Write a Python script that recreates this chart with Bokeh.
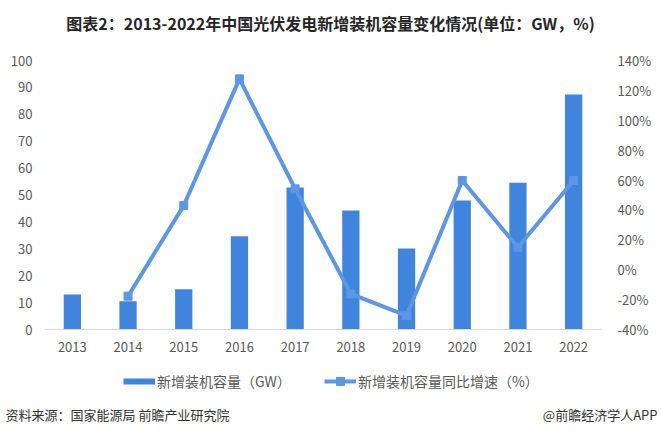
from bokeh.plotting import figure
from bokeh.layouts import column
from bokeh.models import (Range1d, LinearAxis, FixedTicker, PrintfTickFormatter, Label,
                          Legend, LegendItem, ColumnDataSource, FactorRange)
from bokeh.embed import file_html
from bokeh.resources import INLINE

years = ["2013", "2014", "2015", "2016", "2017", "2018", "2019", "2020", "2021", "2022"]
capacity_gw = [13.0, 10.5, 15.0, 34.7, 52.8, 44.2, 30.1, 48.0, 54.6, 87.4]
growth_years = ["2014", "2015", "2016", "2017", "2018", "2019", "2020", "2021", "2022"]
growth_pct = [-17.7, 43.0, 127.7, 54.1, -16.2, -30.7, 59.7, 15.0, 59.7]
left_ticks = [0, 10, 20, 30, 40, 50, 60, 70, 80, 90, 100]
right_ticks = [-40, -20, 0, 20, 40, 60, 80, 100, 120, 140]

TITLE = "图表2：2013-2022年中国光伏发电新增装机容量变化情况(单位：GW，%)"
SOURCE = "资料来源：国家能源局 前瞻产业研究院"
BRAND = "@前瞻经济学人APP"
BAR_LABEL = "新增装机容量（GW）"
LINE_LABEL = "新增装机容量同比增速（%）"

CJK = "Noto Sans CJK SC"
TICK_COLOR = "#595959"
BAR_COLOR = "#3F85DE"
LINE_COLOR = "#5B97E3"

W = 661
TITLE_H = 45
MAIN_H = 320
BOT_H = 74


def text_fig(h):
    f = figure(width=W, height=h, x_range=Range1d(0, W), y_range=Range1d(0, h),
               x_axis_type=None, y_axis_type=None, output_backend="svg",
               toolbar_location=None, min_border=0, frame_align=False)
    f.outline_line_color = None
    f.grid.visible = False
    return f


# ---- title strip
tf = text_fig(TITLE_H)
tf.add_layout(Label(x=330, y=TITLE_H - 22, text=TITLE, text_font=CJK, text_font_size="16px",
                    text_font_style="bold", text_align="center", text_baseline="middle",
                    text_color="#262626"))

# ---- main chart
p = figure(width=W, height=MAIN_H, x_range=FactorRange(*years, range_padding=0),
           y_range=Range1d(0, 100), output_backend="svg", toolbar_location=None,
           min_border_left=44, min_border_right=60, min_border_top=15, min_border_bottom=36,
           frame_align=False)
p.outline_line_color = None
p.grid.visible = False

p.extra_y_ranges = {"pct": Range1d(-40, 140)}

ya = p.yaxis[0]
ya.ticker = FixedTicker(ticks=left_ticks)
ya.axis_line_color = None
ya.major_tick_line_color = None
ya.major_tick_out = 0
ya.minor_tick_line_color = None
ya.major_label_standoff = 12
ya.major_label_text_font = CJK
ya.major_label_text_font_size = "13px"
ya.major_label_text_color = TICK_COLOR

ra = LinearAxis(y_range_name="pct", ticker=FixedTicker(ticks=right_ticks),
                formatter=PrintfTickFormatter(format="%d%%"))
ra.axis_line_color = None
ra.major_tick_line_color = None
ra.major_tick_out = 0
ra.minor_tick_line_color = None
ra.major_label_standoff = 16
ra.major_label_text_font = CJK
ra.major_label_text_font_size = "13px"
ra.major_label_text_color = TICK_COLOR
p.add_layout(ra, "right")

xa = p.xaxis[0]
xa.axis_line_color = "#D9D9D9"
xa.axis_line_width = 1
xa.major_tick_line_color = None
xa.major_tick_out = 0
xa.minor_tick_line_color = None
xa.major_label_standoff = 12
xa.major_label_text_font = CJK
xa.major_label_text_font_size = "13px"
xa.major_label_text_color = TICK_COLOR

src = ColumnDataSource(dict(year=years, cap=capacity_gw))
bars = p.vbar(x="year", top="cap", width=0.31, source=src, fill_color=BAR_COLOR,
              line_color=None)

lsrc = ColumnDataSource(dict(year=growth_years, g=growth_pct))
line = p.line(x="year", y="g", source=lsrc, y_range_name="pct", line_width=4,
              line_color=LINE_COLOR, line_join="round")
marks = p.scatter(x="year", y="g", source=lsrc, y_range_name="pct", marker="square",
                  size=8, fill_color=LINE_COLOR, line_color=LINE_COLOR)

# ---- legend + footer strip (legend swatches drawn off-view; only the legend shows them)
bf = text_fig(BOT_H)
off_x = [-20, -10]
off_y = [-20, -20]
sw_bar = bf.line(x=off_x, y=off_y, line_width=6, line_color=BAR_COLOR, line_cap="butt")
sw_line = bf.line(x=off_x, y=off_y, line_width=4, line_color=LINE_COLOR)
sw_mark = bf.scatter(x=off_x, y=off_y, marker="square", fill_color=LINE_COLOR,
                     line_color=LINE_COLOR)
legend = Legend(items=[LegendItem(label=BAR_LABEL, renderers=[sw_bar]),
                       LegendItem(label=LINE_LABEL, renderers=[sw_line, sw_mark])],
                orientation="horizontal", location=(123, BOT_H - 26),
                glyph_width=32, glyph_height=20, label_standoff=2, spacing=33,
                padding=0, margin=0, border_line_color=None, background_fill_alpha=0,
                label_text_font=CJK, label_text_font_size="14px",
                label_text_color=TICK_COLOR)
bf.add_layout(legend, "center")
bf.add_layout(Label(x=5, y=BOT_H - 49, text=SOURCE, text_font=CJK, text_font_size="13px",
                    text_align="left", text_baseline="middle", text_color="#333333"))
bf.add_layout(Label(x=657, y=BOT_H - 49, text=BRAND, text_font=CJK, text_font_size="13px",
                    text_align="right", text_baseline="middle", text_color="#333333"))

layout = column(tf, p, bf, spacing=0)
open("out.html", "w").write(file_html(layout, INLINE))
